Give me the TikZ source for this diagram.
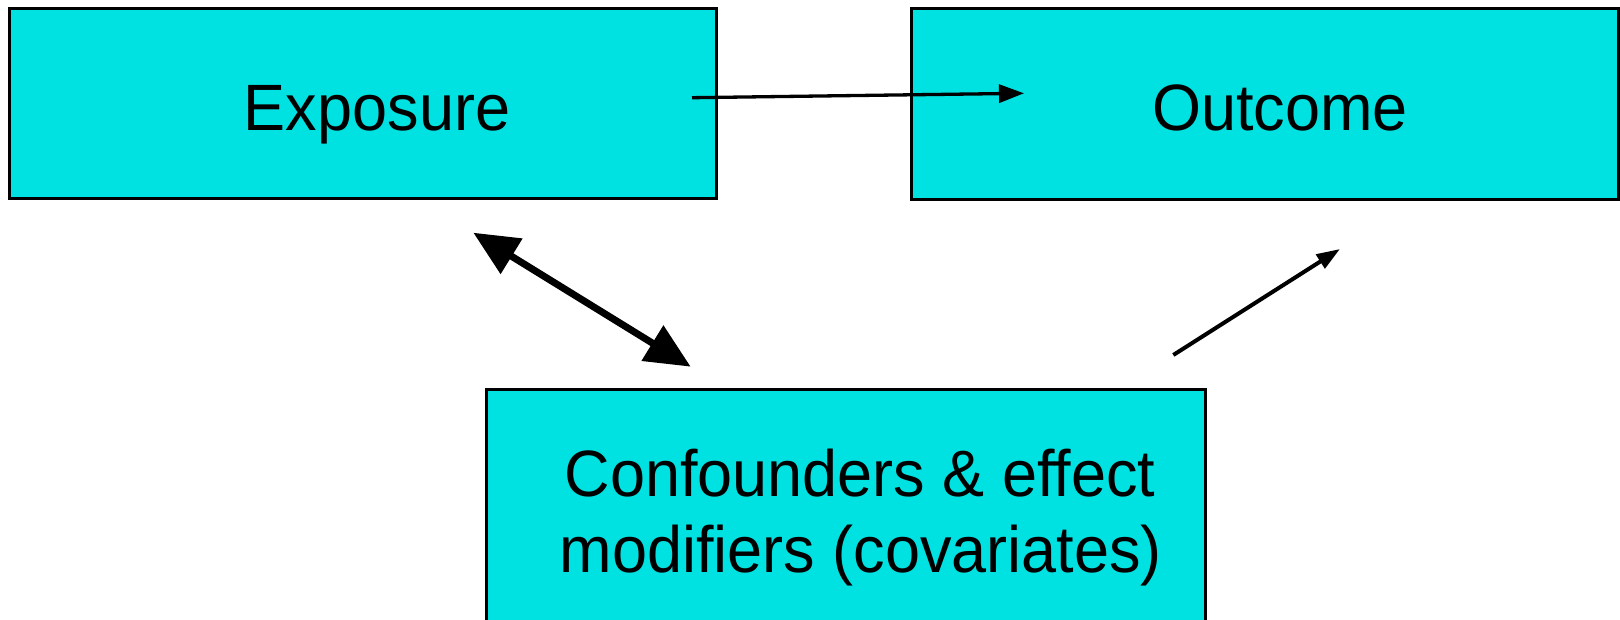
\documentclass[tikz,border=0pt]{standalone}
\usepackage{fontspec}
\setmainfont{Liberation Sans}
\usetikzlibrary{arrows.meta}
\definecolor{boxcyan}{RGB}{0,225,225}
\begin{document}
\begin{tikzpicture}[x=0.5pt,y=-0.5pt,
  box/.style={draw=black, line width=1.5pt, fill=boxcyan, rectangle, inner sep=0pt},
  lbl/.style={font=\fontsize{31.5}{38}\selectfont, anchor=base, inner sep=0pt, yscale=1.04, transform shape},
  thinarrow/.style={line width=1.65pt, -{Triangle[length=12.5pt,width=9pt]}},
  linkarrow/.style={line width=2pt, -{Triangle[length=11.7pt,width=8pt]}},
  twoway/.style={line width=3.5pt, {Triangle[length=22.5pt,width=20pt]}-{Triangle[length=22.5pt,width=20pt]}}]
\useasboundingbox (0,0) rectangle (1620,620);
\clip (0,0) rectangle (1620,620);

% boxes
\node[box, minimum width=353.5pt, minimum height=95pt] (exposure) at (362.5,104) {};
\node[box, minimum width=353.5pt, minimum height=95.5pt] (outcome) at (1264.5,104.5) {};
\node[box, minimum width=359.5pt, minimum height=135.25pt] (covariates) at (846,524.75) {};

% labels
\node[lbl] (exposuretext) at (377,131) {Exposure};
\node[lbl] (outcometext) at (1280,131) {Outcome};
\node[lbl] (covtextA) at (860,496) {Confounders \& effect};
\node[lbl] (covtextB) at (861,572) {modifiers (covariates)};

% connector end points
\coordinate (expR) at (692,97.7);
\coordinate (outL) at (1024,93.3);
\coordinate (expB) at (473.3,232.7);
\coordinate (covT) at (690.7,366.7);
\coordinate (covR) at (1173.3,355);
\coordinate (outB) at (1340,249);

% connectors
\draw[thinarrow] (expR) -- (outL);
\draw[twoway] (expB) -- (covT);
\draw[linkarrow] (covR) -- (outB);
\end{tikzpicture}
\end{document}
